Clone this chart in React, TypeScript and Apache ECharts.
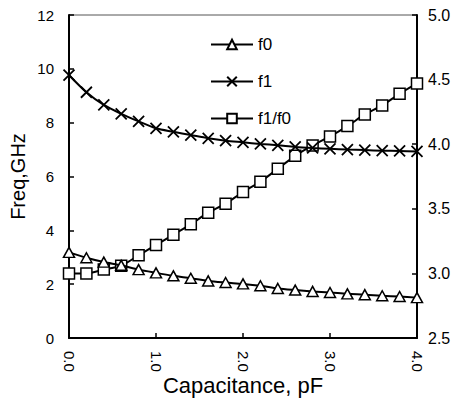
import React, { useEffect, useRef } from "react";
import * as echarts from "echarts";

const capacitance = [0, 0.2, 0.4, 0.6, 0.8, 1.0, 1.2, 1.4, 1.6, 1.8, 2.0, 2.2, 2.4, 2.6, 2.8, 3.0, 3.2, 3.4, 3.6, 3.8, 4.0];
const f0 = [3.18, 2.98, 2.82, 2.70, 2.54, 2.42, 2.31, 2.22, 2.12, 2.06, 2.01, 1.94, 1.84, 1.78, 1.73, 1.69, 1.64, 1.61, 1.57, 1.54, 1.50];
const f1 = [9.77, 9.13, 8.66, 8.33, 8.05, 7.79, 7.66, 7.54, 7.42, 7.33, 7.27, 7.21, 7.16, 7.10, 7.06, 7.03, 7.00, 6.98, 6.96, 6.95, 6.93];
const ratio = [3.00, 3.00, 3.03, 3.06, 3.14, 3.22, 3.30, 3.38, 3.47, 3.54, 3.63, 3.71, 3.81, 3.91, 3.99, 4.06, 4.14, 4.23, 4.30, 4.39, 4.47];

const FONT = "'Liberation Sans', Arial, sans-serif";
const CROSS = "path://M0,0L10,10M10,0L0,10";

export default function App() {
  const ref = useRef<HTMLDivElement>(null);
  useEffect(() => {
    if (!ref.current) return;
    const chart = echarts.init(ref.current, null, { renderer: "svg" });
    const pairs = (ys: number[]) => capacitance.map((x, i) => [x, ys[i]]);
    const lineStyle = { color: "#000", width: 2 };
    chart.setOption({
      animation: false,
      backgroundColor: "#fff",
      textStyle: { fontFamily: FONT, color: "#000" },
      grid: {
        left: 69,
        right: 38,
        top: 15,
        bottom: 62,
        show: true,
        borderColor: "#555",
        borderWidth: 1,
        containLabel: false,
        outerBoundsMode: "none",
      },
      legend: {
        orient: "vertical",
        left: 205,
        top: 31,
        itemWidth: 42,
        itemHeight: 12,
        itemGap: 20,
        textStyle: { fontFamily: FONT, fontSize: 17, color: "#000" },
        data: ["f0", "f1", "f1/f0"],
      },
      xAxis: {
        type: "value",
        min: 0,
        max: 4,
        interval: 1,
        name: "Capacitance, pF",
        nameLocation: "middle",
        nameGap: 36,
        nameMoveOverlap: false,
        nameTextStyle: { fontFamily: FONT, fontSize: 22, color: "#000" },
        axisLine: { lineStyle: { color: "#000", width: 2 } },
        axisTick: { inside: true, length: 5, lineStyle: { color: "#000", width: 1.5 } },
        axisLabel: { rotate: -90, margin: 13, fontSize: 15, color: "#000", fontFamily: FONT, formatter: (v: number) => v.toFixed(1) },
        splitLine: { show: false },
      },
      yAxis: [
        {
          type: "value",
          min: 0,
          max: 12,
          interval: 2,
          name: "Freq,GHz",
          nameLocation: "middle",
          nameGap: 41,
          nameMoveOverlap: false,
          nameTextStyle: { fontFamily: FONT, fontSize: 20, color: "#000" },
          axisLine: { show: true, lineStyle: { color: "#000", width: 2 } },
          axisTick: { show: true, inside: true, length: 5, lineStyle: { color: "#000", width: 1.5 } },
          axisLabel: { margin: 15, fontSize: 15, color: "#000", fontFamily: FONT },
          splitLine: { show: false },
        },
        {
          type: "value",
          min: 2.5,
          max: 5,
          interval: 0.5,
          position: "right",
          axisLine: { show: true, lineStyle: { color: "#000", width: 2 } },
          axisTick: { show: true, inside: true, length: 5, lineStyle: { color: "#000", width: 1.5 } },
          axisLabel: { margin: 11, fontSize: 16, color: "#000", fontFamily: FONT, formatter: (v: number) => v.toFixed(1) },
          splitLine: { show: false },
        },
      ],
      series: [
        {
          name: "f0",
          type: "line",
          data: pairs(f0),
          smooth: 0.3,
          symbol: "triangle",
          symbolSize: [11, 10],
          lineStyle,
          itemStyle: { color: "#fff", borderColor: "#000", borderWidth: 1.5 },
          z: 3,
        },
        {
          name: "f1",
          type: "line",
          data: pairs(f1),
          smooth: 0.3,
          symbol: CROSS,
          symbolSize: 11,
          lineStyle,
          itemStyle: { color: "#000", borderColor: "#000", borderWidth: 1.8 },
          z: 3,
        },
        {
          name: "f1/f0",
          type: "line",
          yAxisIndex: 1,
          data: pairs(ratio),
          smooth: 0.3,
          symbol: "rect",
          symbolSize: 11,
          lineStyle,
          itemStyle: { color: "#fff", borderColor: "#000", borderWidth: 1.5 },
          z: 2,
        },
      ],
    });
    return () => chart.dispose();
  }, []);
  return <div ref={ref} style={{ position: "fixed", left: 0, top: 0, width: 455, height: 400 }} />;
}
